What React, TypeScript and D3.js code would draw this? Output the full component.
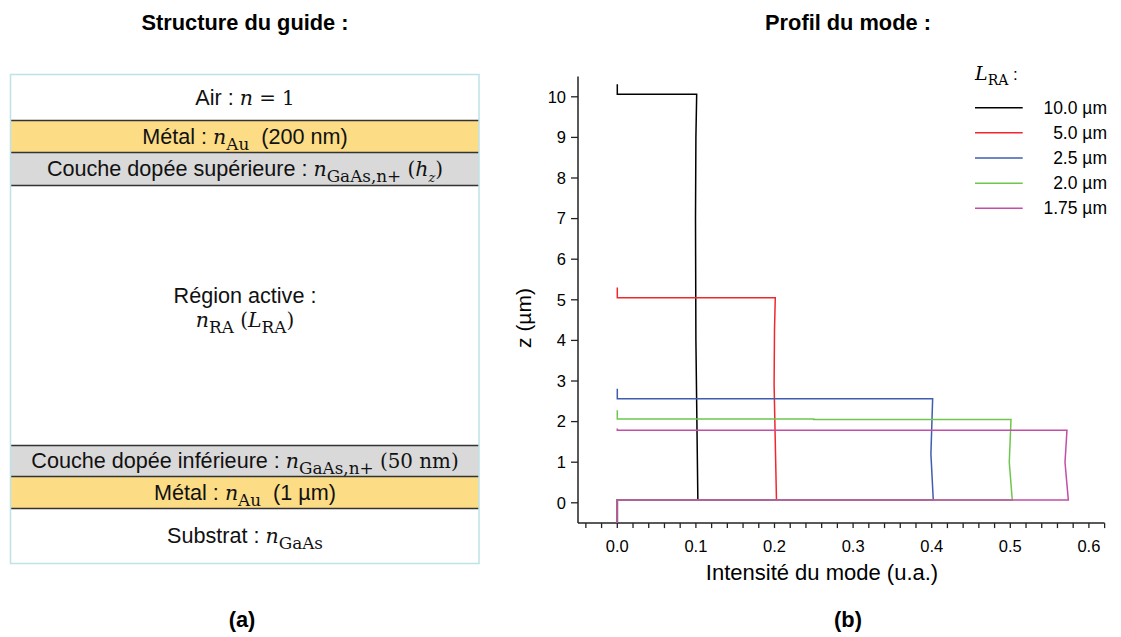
import React from "react";
import * as d3 from "d3";

// ---------- Data ----------
const LRA_LABELS = ["10.0 µm", "5.0 µm", "2.5 µm", "2.0 µm", "1.75 µm"];
const SERIES_COLORS = ["#000000", "#f0282c", "#3f5cb0", "#6fc64e", "#c24ea8"];

// [intensity, z] points of each mode profile
const PROFILE_10: [number, number][] = [
  [0, -0.5], [0, 0.07], [0.1025, 0.07], [0.1, 4], [0.0995, 7], [0.1, 9], [0.101, 10.06], [0, 10.06], [0, 10.31],
];
const PROFILE_5: [number, number][] = [
  [0, -0.5], [0, 0.07], [0.2025, 0.07], [0.1995, 2.9], [0.2, 4.26], [0.201, 5.05], [0, 5.05], [0, 5.3],
];
const PROFILE_25: [number, number][] = [
  [0, -0.5], [0, 0.07], [0.402, 0.07], [0.399, 1.2], [0.4012, 2.56], [0, 2.56], [0, 2.81],
];
const PROFILE_2: [number, number][] = [
  [0, -0.5], [0, 0.07], [0.5025, 0.07], [0.4987, 1.0], [0.5009, 2.05], [0.25, 2.05], [0.25, 2.065], [0, 2.065], [0, 2.28],
];
const PROFILE_175: [number, number][] = [
  [0, -0.5], [0, 0.07], [0.5738, 0.07], [0.5696, 1.0], [0.5721, 1.79], [0, 1.79], [0, 1.83],
];
const PROFILES = [PROFILE_10, PROFILE_5, PROFILE_25, PROFILE_2, PROFILE_175];

const X_TICKS = [0, 0.1, 0.2, 0.3, 0.4, 0.5, 0.6];
const Y_TICKS = [0, 1, 2, 3, 4, 5, 6, 7, 8, 9, 10];

// Structure (schematic) layers
type Seg = { t: string; f: "s" | "mi" | "mr" | "sub" | "subi" };
const LAYER_KINDS = ["air", "metal", "dope", "active", "dope", "metal", "sub"];
const LAYER_THICK = [46, 32, 33, 260, 31, 32, 55];
const LAYER_LABELS: Seg[][][] = [
  [[{ t: "Air : ", f: "s" }, { t: "n", f: "mi" }, { t: " = 1", f: "mr" }]],
  [[{ t: "Métal : ", f: "s" }, { t: "n", f: "mi" }, { t: "Au", f: "sub" }, { t: "  (200 nm)", f: "s" }]],
  [[{ t: "Couche dopée supérieure : ", f: "s" }, { t: "n", f: "mi" }, { t: "GaAs,n+", f: "sub" }, { t: " (", f: "mr" }, { t: "h", f: "mi" }, { t: "z", f: "subi" }, { t: ")", f: "mr" }]],
  [
    [{ t: "Région active :", f: "s" }],
    [{ t: "n", f: "mi" }, { t: "RA", f: "sub" }, { t: " (", f: "mr" }, { t: "L", f: "mi" }, { t: "RA", f: "sub" }, { t: ")", f: "mr" }],
  ],
  [[{ t: "Couche dopée inférieure : ", f: "s" }, { t: "n", f: "mi" }, { t: "GaAs,n+", f: "sub" }, { t: " (50 nm)", f: "mr" }]],
  [[{ t: "Métal : ", f: "s" }, { t: "n", f: "mi" }, { t: "Au", f: "sub" }, { t: "  (1 µm)", f: "s" }]],
  [[{ t: "Substrat : ", f: "s" }, { t: "n", f: "mi" }, { t: "GaAs", f: "sub" }]],
];

const SANS = "'Liberation Sans', Arial, sans-serif";
const SERIF = "'DejaVu Serif', 'Liberation Serif', serif";

function MathText({ segs, x, y, size }: { segs: Seg[]; x: number; y: number; size: number }) {
  const subShift = size * 0.3;
  let shifted = false;
  const parts: React.ReactNode[] = [];
  segs.forEach((s, i) => {
    const isSub = s.f === "sub" || s.f === "subi";
    let dy = 0;
    if (isSub && !shifted) { dy = subShift; shifted = true; }
    else if (!isSub && shifted) { dy = -subShift; shifted = false; }
    let fs = size;
    let family = SANS;
    let fontStyle = "normal";
    if (s.f === "mi") { family = SERIF; fontStyle = "italic"; fs = size * 0.95; }
    if (s.f === "mr") { family = SERIF; fs = size * 0.92; }
    if (s.f === "sub") { family = SERIF; fs = size * 0.78; }
    if (s.f === "subi") { family = SERIF; fontStyle = "italic"; fs = size * 0.6; }
    parts.push(
      <tspan key={i} dy={dy} fontFamily={family} fontStyle={fontStyle} fontSize={fs}>
        {s.t.replace(/ /g, "\u00a0")}
      </tspan>
    );
  });
  return (
    <text x={x} y={y} textAnchor="middle" fill="#111">
      {parts}
    </text>
  );
}

export default function App() {
  const W = 1121, H = 637;

  // ---- structure panel ----
  const boxL = 10.5, boxR = 479, boxT = 74.5;
  const cum: number[] = Array.from(d3.cumsum(LAYER_THICK));
  const total = cum[cum.length - 1];
  const yS = d3.scaleLinear().domain([0, total]).range([boxT, boxT + total]);
  const fillOf: Record<string, string> = { air: "#ffffff", metal: "#fcdc84", dope: "#d9d9d9", active: "#ffffff", sub: "#ffffff" };
  const inner = cum.slice(0, -1);

  // ---- chart panel ----
  const x = d3.scaleLinear().domain([-0.05, 0.62]).range([578, 578 + 0.67 * 786]);
  const y = d3.scaleLinear().domain([-0.5, 10.5]).range([523.1, 76.5]);
  const line = d3.line<[number, number]>().x((d) => x(d[0])).y((d) => y(d[1]));
  const minorX = d3.range(-0.04, 0.6201, 0.02);

  return (
    <svg width={W} height={H} style={{ position: "absolute", left: 0, top: 0, background: "#fff" }}>
      {/* titles */}
      <text x={245} y={30} textAnchor="middle" fontFamily={SANS} fontWeight="bold" fontSize={21.8}>Structure du guide :</text>
      <text x={848} y={30} textAnchor="middle" fontFamily={SANS} fontWeight="bold" fontSize={21.8}>Profil du mode :</text>
      <text x={242} y={627} textAnchor="middle" fontFamily={SANS} fontWeight="bold" fontSize={21.8}>(a)</text>
      <text x={848} y={627} textAnchor="middle" fontFamily={SANS} fontWeight="bold" fontSize={21.8}>(b)</text>

      {/* structure layers */}
      {LAYER_KINDS.map((k, i) => {
        const y0 = yS(i === 0 ? 0 : cum[i - 1]);
        const y1 = yS(cum[i]);
        return <rect key={i} x={boxL} y={y0} width={boxR - boxL} height={y1 - y0} fill={fillOf[k]} />;
      })}
      {inner.map((c, i) => (
        <line key={`b${i}`} x1={boxL} x2={boxR} y1={yS(c)} y2={yS(c)} stroke="#333333" strokeWidth={1.6} />
      ))}
      <rect x={boxL} y={boxT} width={boxR - boxL} height={yS(total) - boxT} fill="none" stroke="#bfe2e8" strokeWidth={1.5} />
      {LAYER_LABELS.map((lines, i) => {
        const y0 = yS(i === 0 ? 0 : cum[i - 1]);
        const y1 = yS(cum[i]);
        const mid = (y0 + y1) / 2;
        const lh = 24;
        return lines.map((segs, j) => {
          const base = mid + 7 + (j - (lines.length - 1) / 2) * lh - (lines.length > 1 ? 8 : 0);
          return <MathText key={`${i}-${j}`} segs={segs} x={245} y={base} size={21.6} />;
        });
      })}

      {/* axes */}
      <line x1={x(-0.05)} x2={x(-0.05)} y1={y(10.5)} y2={y(-0.5)} stroke="#222" strokeWidth={1.5} />
      <line x1={x(-0.05)} x2={x(0.62)} y1={y(-0.5)} y2={y(-0.5)} stroke="#222" strokeWidth={1.5} />
      {Y_TICKS.map((t) => (
        <g key={t}>
          <line x1={x(-0.05) - 7} x2={x(-0.05)} y1={y(t)} y2={y(t)} stroke="#222" strokeWidth={1.3} />
          <text x={x(-0.05) - 12} y={y(t) + 5.8} textAnchor="end" fontFamily={SANS} fontSize={16.5}>{t}</text>
        </g>
      ))}
      {minorX.map((t, i) => (
        <line key={i} x1={x(t)} x2={x(t)} y1={y(-0.5)} y2={y(-0.5) + 5} stroke="#222" strokeWidth={1.3} />
      ))}
      {X_TICKS.map((t) => (
        <text key={t} x={x(t)} y={y(-0.5) + 29} textAnchor="middle" fontFamily={SANS} fontSize={16.5}>{t.toFixed(1)}</text>
      ))}
      <text x={822} y={580} textAnchor="middle" fontFamily={SANS} fontSize={22}>Intensité du mode (u.a.)</text>
      <text transform={`translate(531,318) rotate(-90)`} textAnchor="middle" fontFamily={SANS} fontSize={21}>z (µm)</text>

      {/* profiles */}
      {PROFILES.map((p, i) => (
        <path key={i} d={line(p) || ""} fill="none" stroke={SERIES_COLORS[i]} strokeWidth={1.5} />
      ))}

      {/* legend */}
      <text x={975} y={80} fontSize={19}>
        <tspan fontFamily={SERIF} fontStyle="italic">L</tspan>
        <tspan fontFamily={SERIF} fontSize={14} dy={5}>RA</tspan>
        <tspan fontFamily={SANS} fontSize={17} dy={-5}>{"\u00a0:"}</tspan>
      </text>
      {LRA_LABELS.map((lab, i) => {
        const ly = 107.7 + i * 25.15;
        return (
          <g key={lab}>
            <line x1={975} x2={1022.7} y1={ly} y2={ly} stroke={SERIES_COLORS[i]} strokeWidth={1.5} />
            <text x={1107} y={ly + 6} textAnchor="end" fontFamily={SANS} fontSize={17.5}>{lab}</text>
          </g>
        );
      })}
    </svg>
  );
}
